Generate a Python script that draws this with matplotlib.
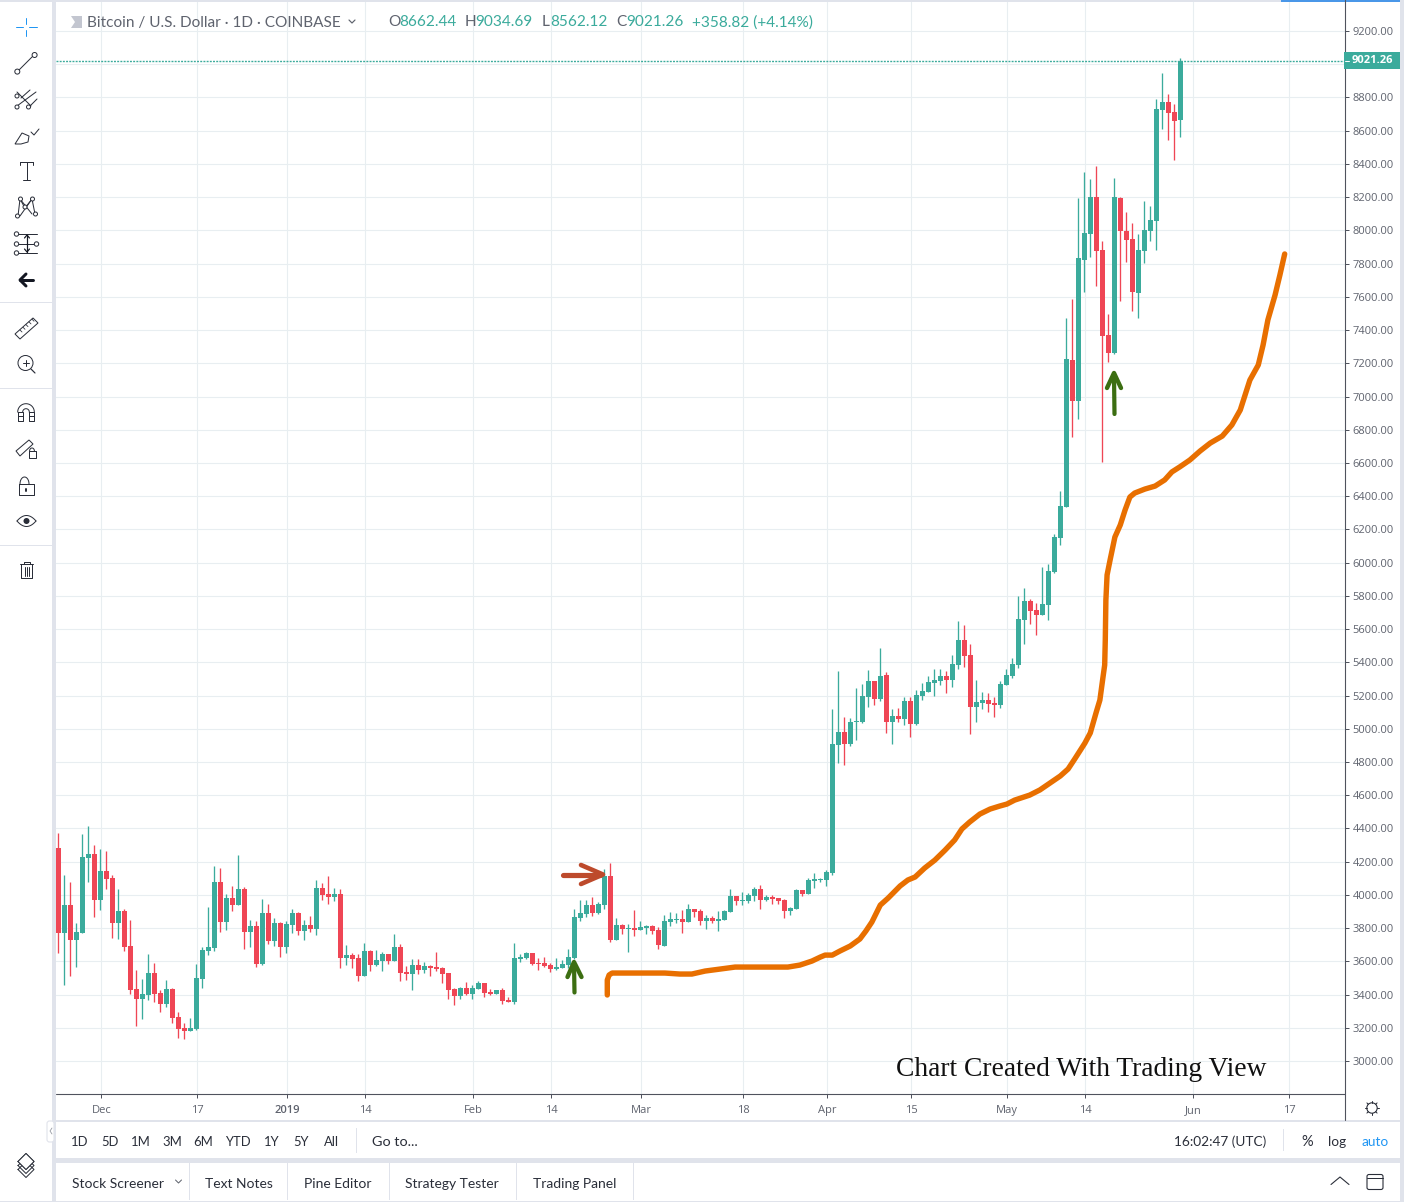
import matplotlib
matplotlib.use("Agg")
import matplotlib.pyplot as plt
from matplotlib.patches import Rectangle, Circle, Polygon, FancyBboxPatch
import numpy as np

W, H = 1404, 1202
UP = "#3bab9c"
DOWN = "#ef4655"
GRID = "#e8eef1"
AXIS = "#50535e"
LABEL = "#5f636e"
CHROME = "#e0e3eb"
UI_FONT = "Lato"

# daily candles, first bar is 24 Nov 2018
opens = [4282, 3772, 3940, 3730, 3772, 4222, 4246, 3970, 4144, 4102,
         3832, 3904, 3694, 3436, 3376, 3400, 3532, 3412, 3346, 3436,
         3268, 3202, 3184, 3196, 3496, 3664, 3682, 4078, 3838, 3982,
         3940, 4036, 3778, 3814, 3586, 3892, 3724, 3832, 3688, 3820,
         3892, 3784, 3820, 3796, 4042, 4006, 3988, 4006,
         3620, 3638, 3620, 3511, 3662, 3577, 3601, 3644, 3601, 3686,
         3535, 3523, 3577, 3547, 3571, 3565, 3559, 3529, 3432, 3389,
         3438, 3401, 3432, 3468, 3414, 3401, 3426, 3365, 3353, 3614,
         3620, 3650, 3589, 3589, 3577, 3553, 3559, 3577, 3620, 3862,
         3886, 3941, 3892, 3941, 4117, 3729, 3820, 3796, 3802, 3790,
         3802, 3814, 3790, 3693, 3838, 3850, 3856, 3838, 3917, 3905,
         3844, 3862, 3844, 3850, 3899, 3996, 3965, 3965, 3996, 4038,
         3971, 3990, 3984, 3971, 3905, 3917, 4032, 4008, 4087, 4093,
         4093, 4135, 4900, 4978, 4906, 5038, 5044, 5194, 5290, 5182,
         5326, 5038, 5080, 5062, 5170, 5026, 5200, 5224, 5278, 5290,
         5320, 5296, 5386, 5536, 5446, 5134, 5158, 5176, 5158, 5146,
         5266, 5320, 5386, 5656, 5770, 5716, 5686, 5746, 5944, 6148,
         6335, 7217, 6975, 7820, 7981, 8199, 7881, 7368, 7259, 8193,
         7994, 7951, 7621, 7875, 7994, 8054, 8724, 8772, 8712, 8662.44]
highs = [4372, 4120, 4078, 3832, 4366, 4414, 4300, 4276, 4264, 4120,
         4036, 3916, 3850, 3550, 3496, 3646, 3592, 3430, 3490, 3442,
         3298, 3232, 3262, 3586, 3688, 3928, 4174, 4162, 4006, 4054,
         4240, 4048, 3850, 3844, 3976, 3946, 3862, 3838, 3844, 3916,
         3898, 3850, 3874, 4090, 4072, 4114, 4042, 4036,
         3698, 3650, 3644, 3710, 3670, 3668, 3656, 3644, 3765, 3704,
         3571, 3613, 3613, 3595, 3577, 3656, 3565, 3529, 3438, 3444,
         3474, 3456, 3480, 3468, 3432, 3426, 3438, 3383, 3710, 3644,
         3656, 3650, 3620, 3626, 3589, 3620, 3607, 3674, 3916, 3971,
         3971, 3989, 3959, 4159, 4195, 3862, 3826, 3826, 3911, 3844,
         3820, 3820, 3808, 3881, 3899, 3893, 3911, 3947, 3917, 3917,
         3881, 3874, 3905, 3911, 4038, 3996, 4020, 4014, 4050, 4062,
         4002, 4002, 3984, 3977, 3929, 4038, 4032, 4105, 4135, 4105,
         4153, 5122, 5350, 5074, 5068, 5248, 5272, 5356, 5290, 5488,
         5344, 5122, 5128, 5194, 5194, 5236, 5278, 5320, 5362, 5362,
         5350, 5446, 5650, 5626, 5512, 5296, 5224, 5218, 5194, 5290,
         5362, 5428, 5800, 5848, 5782, 5758, 5974, 5992, 6172, 6430,
         7470, 7585, 8193, 8350, 8307, 8386, 7939, 7494, 8313, 8199,
         8108, 8042, 7981, 8175, 8144, 8790, 8947, 8820, 8760, 9034.69]
lows = [3652, 3460, 3514, 3568, 3772, 4078, 3868, 3910, 4036, 3742,
        3736, 3664, 3406, 3214, 3256, 3370, 3358, 3298, 3328, 3232,
        3142, 3136, 3184, 3190, 3442, 3640, 3664, 3778, 3790, 3904,
        3940, 3676, 3688, 3568, 3580, 3706, 3694, 3628, 3652, 3772,
        3760, 3730, 3778, 3760, 3970, 3946, 3964, 3562,
        3577, 3559, 3480, 3511, 3541, 3571, 3541, 3583, 3601, 3480,
        3486, 3426, 3523, 3529, 3510, 3541, 3468, 3371, 3335, 3371,
        3395, 3371, 3432, 3383, 3395, 3401, 3341, 3353, 3341, 3595,
        3614, 3577, 3547, 3565, 3535, 3547, 3559, 3559, 3614, 3844,
        3868, 3874, 3886, 3917, 3717, 3729, 3765, 3656, 3753, 3790,
        3765, 3765, 3674, 3693, 3814, 3832, 3771, 3838, 3868, 3820,
        3796, 3832, 3784, 3850, 3899, 3941, 3941, 3953, 3965, 3917,
        3965, 3947, 3947, 3862, 3881, 3917, 3996, 4008, 4044, 4081,
        4056, 4120, 4792, 4780, 4894, 4930, 5032, 5134, 5146, 5170,
        4972, 4906, 5038, 5020, 4948, 5020, 5176, 5224, 5200, 5266,
        5218, 5254, 5362, 5374, 4966, 5044, 5122, 5104, 5074, 5128,
        5266, 5308, 5368, 5512, 5632, 5566, 5686, 5656, 5938, 6106,
        6335, 6758, 6867, 7627, 7838, 7663, 6603, 7205, 7253, 7573,
        7808, 7512, 7470, 7802, 7939, 7879, 8609, 8543, 8422, 8562.12]
closes = [3772, 3940, 3730, 3778, 4228, 4246, 3970, 4144, 4096, 3832,
          3904, 3688, 3430, 3376, 3406, 3532, 3406, 3346, 3436, 3262,
          3196, 3184, 3202, 3502, 3670, 3688, 4078, 3838, 3982, 3940,
          4036, 3778, 3814, 3586, 3892, 3724, 3832, 3688, 3826, 3892,
          3784, 3820, 3796, 4042, 4000, 3988, 4006, 3622,
          3638, 3614, 3511, 3662, 3577, 3607, 3644, 3601, 3686, 3529,
          3523, 3577, 3547, 3571, 3559, 3553, 3523, 3426, 3389, 3438,
          3401, 3438, 3468, 3407, 3401, 3426, 3359, 3353, 3620, 3626,
          3650, 3583, 3583, 3571, 3553, 3565, 3583, 3626, 3868, 3892,
          3941, 3892, 3947, 4117, 3729, 3820, 3795, 3802, 3790, 3808,
          3814, 3784, 3699, 3844, 3856, 3856, 3838, 3917, 3899, 3844,
          3862, 3844, 3856, 3905, 3996, 3965, 3971, 4002, 4038, 3971,
          3990, 3977, 3965, 3905, 3923, 4032, 4008, 4093, 4099, 4099,
          4141, 4906, 4978, 4906, 5044, 5050, 5200, 5290, 5182, 5320,
          5038, 5080, 5062, 5170, 5026, 5206, 5230, 5284, 5296, 5320,
          5296, 5392, 5536, 5440, 5134, 5164, 5176, 5152, 5146, 5272,
          5326, 5392, 5662, 5770, 5710, 5686, 5752, 5950, 6154, 6340,
          7223, 6975, 7832, 7987, 8199, 7875, 7362, 7259, 8199, 7994,
          7945, 7627, 7883, 8000, 8060, 8730, 8772, 8706, 8657, 9021.26]

# hand drawn orange curve on the chart, in bars and price
curve_bar = [91.5, 91.5, 91.8, 92.3, 96.9, 101.1, 103.6, 105.6, 107.8, 110.3,
             112.8, 116.9, 121.6, 123.6, 125.6, 127, 127.8, 129, 130.3, 132,
             133.6, 134.6, 135.6, 137, 138.3, 140.3, 141.6, 142.8, 144.4, 146.1,
             147.8, 149.4, 150.6, 151.9, 153.6, 155.3, 156.9, 158.1, 159.4, 161.9,
             163.6, 165.3, 167, 168.3, 169.4, 171.1, 172, 173, 173.6, 174.1,
             174.4, 174.5, 174.6, 174.8, 175.3, 176.1, 177, 177.8, 178.6, 179.4,
             181.1, 182.8, 184.4, 185.6, 186.9, 188.6, 190.3, 192, 194, 195.6,
             197, 197.8, 198.6, 200, 200.8, 201.6, 202.8, 203.6, 204.4]
curve_price = [3398, 3488, 3518, 3530, 3530, 3530, 3524, 3524, 3542, 3554,
               3566, 3566, 3566, 3578, 3602, 3626, 3638, 3638, 3663, 3693,
               3735, 3783, 3837, 3939, 3981, 4054, 4090, 4108, 4162, 4210,
               4270, 4331, 4397, 4439, 4487, 4517, 4535, 4547, 4571, 4601,
               4632, 4674, 4716, 4758, 4818, 4914, 4975, 5101, 5173, 5306,
               5384, 5534, 5775, 5926, 6016, 6154, 6227, 6317, 6395, 6419,
               6443, 6461, 6498, 6546, 6576, 6618, 6672, 6720, 6762, 6829,
               6919, 7009, 7099, 7190, 7310, 7461, 7611, 7731, 7858]

price_ticks = list(range(3000, 9400, 200))
date_bars = [7, 23, 38, 51, 69, 82, 97, 114, 128, 142, 158, 171, 189, 205]
date_labels = ["Dec", "17", "2019", "14", "Feb", "14", "Mar", "18", "Apr", "15", "May", "14", "Jun", "17"]
last_price = 9021.26

header_parts = [("Bitcoin / U.S. Dollar · 1D · COINBASE", 87, LABEL),
                ("O", 388, LABEL), ("8662.44", 399, UP),
                ("H", 465, LABEL), ("9034.69", 475, UP),
                ("L", 542, LABEL), ("8562.12", 550, UP),
                ("C", 616, LABEL), ("9021.26", 626, UP),
                ("+358.82 (+4.14%)", 692, UP)]
range_buttons = [("1D", 80), ("5D", 110), ("1M", 141), ("3M", 172), ("6M", 203),
                 ("YTD", 238), ("1Y", 272), ("5Y", 301), ("All", 331)]
tab_names = [("Stock Screener", 72), ("Text Notes", 205), ("Pine Editor", 304),
             ("Strategy Tester", 405), ("Trading Panel", 533)]
tab_seps = [189, 287, 389, 516, 633]

fig = plt.figure(figsize=(W / 100, H / 100), dpi=100, facecolor="white")

# price chart, bar n sits at pixel 58.3 + 6n
ax = fig.add_axes([56 / W, (H - 1094) / H, (1344.5 - 56) / W, 1094 / H])
ax.set_xlim(-0.383, 214.37)
ax.set_ylim(2802, 9386.6)
for s in ax.spines.values():
    s.set_visible(False)

ax.set_yticks(price_ticks)
# the 9000 label sits under the last price tag
ax.set_yticklabels(["" if p == 9000 else f"{p:.2f}" for p in price_ticks], fontsize=8, color=LABEL, family="Open Sans")
ax.yaxis.tick_right()
ax.tick_params(axis="y", length=3.2, width=0.72, color=AXIS, pad=2.5)
ax.set_xticks(np.array(date_bars) + 0.17)
ax.set_xticklabels(date_labels, fontsize=8, color=LABEL, family="Open Sans")
ax.tick_params(axis="x", length=3, width=0.72, color=AXIS, pad=5)
ax.get_xticklabels()[2].set_fontweight("semibold")
ax.grid(True, color=GRID, lw=0.8)
ax.set_axisbelow(True)

bars = np.arange(len(opens))
o = np.array(opens)
c = np.array(closes)
colors = [UP if b >= a else DOWN for a, b in zip(o, c)]
ax.vlines(bars, lows, highs, colors=colors, lw=0.95, zorder=3)
ax.bar(bars, np.abs(c - o), bottom=np.minimum(o, c), width=5.3 / 6, color=colors, lw=0, zorder=4)
ax.axhline(last_price, color=UP, lw=1.0, ls=(0, (1.4, 0.9)), zorder=2)
ax.plot(curve_bar, curve_price, color="#e86f00", lw=3.9, solid_capstyle="round",
        solid_joinstyle="round", zorder=5)

# everything else is drawn in screen pixels on top
ui = fig.add_axes([0, 0, 1, 1])
ui.set_xlim(0, W)
ui.set_ylim(H, 0)
ui.axis("off")
ui.patch.set_alpha(0)


def rect(x0, y0, x1, y1, color, z=1):
    ui.add_patch(Rectangle((x0, y0), x1 - x0, y1 - y0, fc=color, ec="none", zorder=z))


def line(xs, ys, color="#2a2e39", px=1.0, z=6):
    ui.plot(xs, ys, color=color, lw=px * 0.72, solid_capstyle="round", solid_joinstyle="round", zorder=z)


def dot(x, y, r=2.5, fill="white"):
    ui.add_patch(Circle((x, y), r, fc=fill, ec="#2a2e39", lw=0.72, zorder=7))


def label(x, y, s, color="#2a2e39", size=9.4, ha="left", **kw):
    ui.text(x, y, s, color=color, fontsize=size, ha=ha, va="center", family=kw.pop("family", UI_FONT), **kw)


# chrome around the panes
rect(0, 0, W, 2, CHROME)
rect(1281, 0, 1400, 2, "#4a97e8", z=2)
rect(52, 0, 56, H, CHROME)
rect(1400, 0, W, H, CHROME)
rect(56, 1120, 1400, 1121.5, CHROME)
rect(56, 1158, 1400, 1163, CHROME)
rect(0, 1200.5, W, H, CHROME)
rect(0, 301.5, 52, 302.7, CHROME)
rect(0, 387.5, 52, 388.7, CHROME)
rect(0, 545, 52, 546.2, CHROME)
line([1344.5, 1344.5], [0, 1120], AXIS, 1.1)
line([56, 1344.5], [1094, 1094], AXIS, 1.1)

# hand drawn arrows
red_arrow = "#bd4a2c"
green_arrow = "#3c6e12"
line([563, 600], [874.5, 874.5], red_arrow, 5.2)
line([581, 603, 581], [865, 874.5, 884], red_arrow, 4.6)
line([574.5, 574], [992.5, 964], green_arrow, 4.2)
line([567.5, 574, 581.5], [977, 962, 977], green_arrow, 4.4)
line([1114.5, 1114], [414, 376], green_arrow, 4.2)
line([1107, 1114, 1121], [388, 373, 388], green_arrow, 4.4)

# header
for s, x, col in header_parts:
    label(x, 22.5, s, col, size=11.1)
ui.add_patch(Polygon([(71, 16), (82, 16), (82, 28), (71, 28), (75, 22)], fc="#c3c6d0", ec="none", zorder=6))
line([349, 352, 355], [20, 23, 20], LABEL, 1.2)

# last price tag
rect(1344, 52, 1400, 69, UP, z=6)
line([1344.5, 1349], [60.6, 60.6], "white", 1, z=7)
ui.text(1372, 60.5, f"{last_price:.2f}", color="white", fontsize=8, fontweight="bold", ha="center", va="center",
        family="Open Sans", zorder=8)

# watermark text
ui.text(896, 1070, "Chart Created With Trading View", fontsize=19.8, color="#111111", ha="left", va="center",
        family="Liberation Serif", zorder=8)

# left toolbar
line([26, 26], [18, 24], "#2196f3", 1)
line([26, 26], [30, 36], "#2196f3", 1)
line([16, 23], [27, 27], "#2196f3", 1)
line([29, 37], [27, 27], "#2196f3", 1)

line([18, 34], [71, 55])
dot(17.3, 71.6)
dot(34.6, 55)

line([17, 36], [106, 92])
line([17, 31], [92, 106])
line([21, 30], [98, 90])
line([29, 37], [107, 99])
dot(17, 107, 2)
dot(17, 96, 2)
dot(28.5, 107, 2)

ui.add_patch(Polygon([(15, 144), (22, 133), (29, 136), (28, 142), (21, 144)], fc="white", ec="#2a2e39", lw=0.72, zorder=6))
line([31, 34, 39], [132, 135, 129])

line([26.5, 26.5], [162, 180])
line([20, 33], [162, 162])
line([20, 20], [162, 165])
line([33, 33], [162, 165])
line([23, 30], [180, 180])

line([18, 20, 25, 32, 35], [216, 199, 208, 199, 214])
line([20, 32], [199, 214])
line([32, 20], [199, 216])
for p in [(17.5, 216), (20.5, 199), (25, 207), (32.5, 199), (35.5, 214)]:
    dot(p[0], p[1], 2)

for yy in [234, 244, 253]:
    line([18, 37], [yy, yy])
    dot(16.5, yy, 2.2)
dot(36.5, 244, 2.2)
line([27, 27], [235, 252], "#131722", 1.2)
line([24.5, 27, 29.5], [238, 235, 238], "#131722", 1.2)
line([24.5, 27, 29.5], [249, 252, 249], "#131722", 1.2)

line([20, 33], [280, 280], "#131722", 3)
line([26, 20, 26], [274, 280, 286], "#131722", 3)

ui.add_patch(Polygon([(15, 334), (33, 318), (38, 323), (20, 339)], fc="white", ec="#2a2e39", lw=0.72, zorder=6))
for k in range(5):
    line([20 + 3 * k, 22 + 3 * k], [330 - 2.7 * k, 332 - 2.7 * k], px=0.8, z=7)

dot(25.5, 363, 7.5)
line([22.5, 28.5], [363, 363], z=8)
line([25.5, 25.5], [360, 366], z=8)
line([31, 35], [369, 373], px=1.2)

th = np.linspace(np.pi, 2 * np.pi, 30)
ui.plot(26 + 8.3 * np.cos(th), 412 + 8.3 * np.sin(th), color="#2a2e39", lw=0.72, zorder=6)
ui.plot(26 + 3.3 * np.cos(th), 412 + 3.3 * np.sin(th), color="#2a2e39", lw=0.72, zorder=6)
line([17.7, 17.7, 22.7, 22.7, 17.7], [412, 421, 421, 412, 412])
line([29.3, 29.3, 34.3, 34.3, 29.3], [412, 421, 421, 412, 412])
line([17.7, 22.7], [416, 416])
line([29.3, 34.3], [416, 416])

ui.add_patch(Polygon([(16, 451), (29, 440), (33, 444), (20, 456)], fc="white", ec="#2a2e39", lw=0.72, zorder=6))
rect(28.5, 451, 35.5, 457.5, "white", z=6)
line([28.5, 35.5, 35.5, 28.5, 28.5], [451, 451, 457.5, 457.5, 451], z=7)
ui.plot(32 + 2.4 * np.cos(th), 451 + 3 * np.sin(th), color="#2a2e39", lw=0.72, zorder=7)

line([19, 33.5, 33.5, 19, 19], [484, 484, 495, 495, 484])
ui.plot(24.5 + 4.5 * np.cos(th), 484 + 7 * np.sin(th), color="#2a2e39", lw=0.72, zorder=6)
line([26, 26], [489, 490.5], px=2)

# eye
t2 = np.linspace(-1, 1, 30)
line(26.5 + 9.5 * t2, 521 - 5.5 * (1 - t2 ** 2))
line(26.5 + 9.5 * t2, 521 + 5.5 * (1 - t2 ** 2))
ui.add_patch(Circle((26.5, 521), 3, fc="#2a2e39", ec="none", zorder=7))

line([20, 33], [564, 564])
line([23.5, 23.5, 29.5, 29.5], [564, 562, 562, 564])
line([21, 21, 32, 32], [564, 578, 578, 564])
for xx in [24.5, 26.5, 28.5]:
    line([xx, xx], [566.5, 575.5])

for dy in [-1.5, 2.5, 6.5]:
    line([18, 26, 34, 26, 18], [1163 + dy, 1171 + dy, 1163 + dy, 1155 + dy, 1163 + dy])
ui.add_patch(Polygon([(18, 1161.5), (26, 1153.5), (34, 1161.5), (26, 1169.5)], fc="white", ec="#2a2e39", lw=0.72, zorder=7))

ui.add_patch(FancyBboxPatch((47, 1121), 7, 21, boxstyle="round,pad=0,rounding_size=2.5", fc="white", ec=CHROME, lw=0.8, zorder=8))
line([52, 50, 52], [1128, 1131, 1134], "#9598a1", 0.8, z=9)

# gear in the scale corner
ui.add_patch(Circle((1372, 1108), 5.2, fc="white", ec="#2a2e39", lw=0.8, zorder=6))
for a in np.arange(8) * np.pi / 4:
    line([1372 + 5.2 * np.cos(a), 1372 + 7.2 * np.cos(a)], [1108 + 5.2 * np.sin(a), 1108 + 7.2 * np.sin(a)], px=1)

# range bar
for s, x in range_buttons:
    label(x, 1141.5, s, ha="center", size=9.4)
label(372, 1141.5, "Go to...", size=10.4)
rect(355.5, 1128, 356.5, 1153, CHROME)
rect(1283, 1129, 1284, 1151, CHROME)
label(1220, 1141.5, "16:02:47 (UTC)", ha="center", size=9.8)
label(1307, 1141.5, "%", ha="center", size=10.5)
label(1337.5, 1141.5, "log", ha="center", size=9.8)
label(1375, 1141.5, "auto", "#2196f3", ha="center", size=9.8)

# tab bar
for s, x in tab_names:
    label(x, 1183.5, s, size=10)
for x in tab_seps:
    rect(x - 0.5, 1163, x + 0.5, 1200, CHROME)
line([175.5, 178.5, 181.5], [1180, 1183, 1180], LABEL, 1)
line([1331, 1340, 1349], [1184.5, 1177, 1184.5], "#2a2e39", 1.1)
ui.add_patch(FancyBboxPatch((1367, 1174.5), 16, 15, boxstyle="round,pad=0,rounding_size=2", fc="white", ec="#2a2e39", lw=0.8, zorder=6))
line([1367, 1383], [1178, 1178], "#2a2e39", 1)

fig.savefig("out.png", dpi=100, facecolor="white")
